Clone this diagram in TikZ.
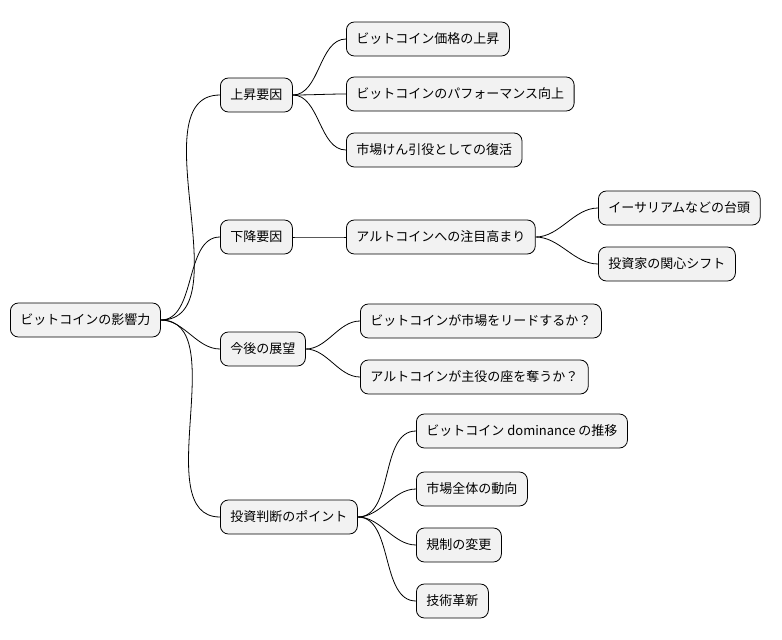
\documentclass[tikz,border=0pt]{standalone}
\usepackage{fontspec}
\setmainfont{Noto Sans CJK JP}
\usepackage{tikz}

\tikzset{
    topic/.style={draw=black, fill=gray!10, rounded corners=8pt, line width=0.8pt,
        anchor=west, minimum height=34pt, inner xsep=10pt,
        font=\fontsize{13}{15}\selectfont},
    branch/.style={line width=0.8pt, out=0, in=180, looseness=0.9}
}

\begin{document}
\begin{tikzpicture}[x=1pt, y=-1pt]
        % mind map of the influence of bitcoin
\useasboundingbox (0,0) rectangle (782,640);

\node[topic] (root) at (10,320) {ビットコインの影響力};

\node[topic] (up) at (220,95) {上昇要因};
\node[topic] (down) at (220,237) {下降要因};
\node[topic] (future) at (220,349) {今後の展望};
\node[topic] (invest) at (220,517) {投資判断のポイント};

\node[topic] (up1) at (346,39) {ビットコイン価格の上昇};
\node[topic] (up2) at (346,94) {ビットコインのパフォーマンス向上};
\node[topic] (up3) at (346,150) {市場けん引役としての復活};

\node[topic] (alt) at (346,237) {アルトコインへの注目高まり};
\node[topic] (alt1) at (598,208) {イーサリアムなどの台頭};
\node[topic] (alt2) at (598,264) {投資家の関心シフト};

\node[topic] (fut1) at (360,321) {ビットコインが市場をリードするか？};
\node[topic] (fut2) at (360,377) {アルトコインが主役の座を奪うか？};

\node[topic] (inv1) at (416,431) {ビットコイン dominance の推移};
\node[topic] (inv2) at (416,489) {市場全体の動向};
\node[topic] (inv3) at (416,545) {規制の変更};
\node[topic] (inv4) at (416,601) {技術革新};

\foreach \a/\b in {root/up, root/down, root/future, root/invest,
    up/up1, up/up2, up/up3, down/alt, alt/alt1, alt/alt2,
    future/fut1, future/fut2, invest/inv1, invest/inv2, invest/inv3, invest/inv4}
    \draw[branch] (\a.east) to (\b.west);

    \end{tikzpicture}
\end{document}
